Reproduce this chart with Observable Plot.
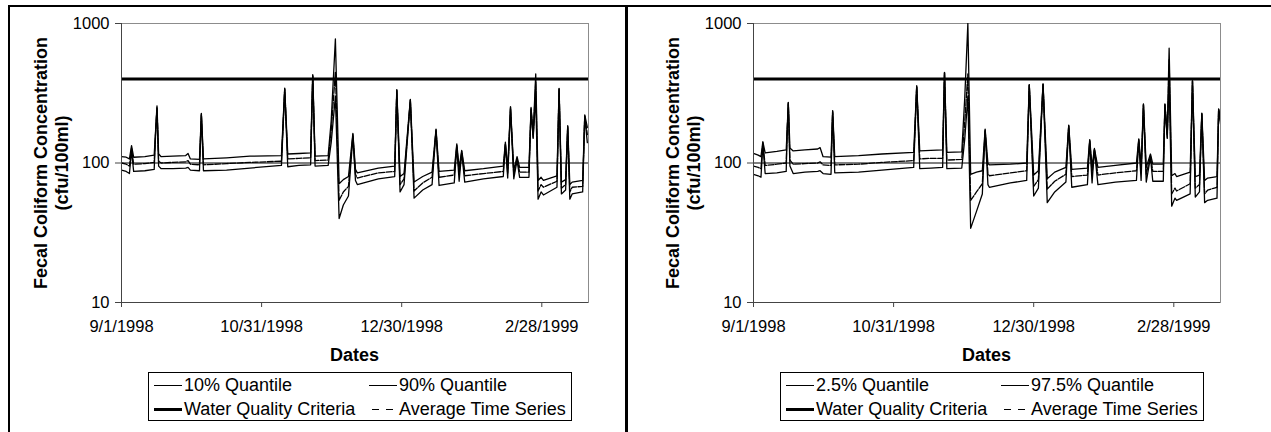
<!DOCTYPE html>
<html>
<head>
<meta charset="utf-8">
<script src="https://cdn.jsdelivr.net/npm/d3@7"></script>
<script src="https://cdn.jsdelivr.net/npm/@observablehq/plot@0.6"></script>
<style>
  body { margin: 0; background: #fff; font-family: "Liberation Sans", Arial, sans-serif; color: #000; }
  #page { position: relative; width: 1271px; height: 432px; overflow: hidden; background: #fff; }
  .bar { position: absolute; background: #000; }
  .panel { position: absolute; top: 0; width: 627px; height: 340px; }
  .panel svg { overflow: visible; }
  .ytitle { position: absolute; width: 320px; height: 42px; line-height: 21px; font-size: 18px; font-weight: bold;
            text-align: center; white-space: nowrap; transform: rotate(-90deg); transform-origin: 50% 50%; }
  .xtitle { position: absolute; width: 200px; text-align: center; font-size: 18px; font-weight: bold; line-height: 20.7px; }
  .legend { position: absolute; border: 1px solid #000; background: #fff; box-sizing: border-box; }
  .legend .item { position: absolute; height: 24px; line-height: 24px; font-size: 18px; white-space: nowrap; }
  .legend svg { position: absolute; }
</style>
</head>
<body>
<div id="page"></div>
<script>
// ---------------- data ----------------
const startLabel = "9/1/1998";
const endDayOffset = 200;               // x domain end, days after 9/1/1998
const xTickLabels = ["9/1/1998", "10/31/1998", "12/30/1998", "2/28/1999"];
const yTicks = [10, 100, 1000];
const criteriaValue = 400;
const gridValue = 100;

// Left panel (days after 9/1/1998)
const leftDays = [0, 2, 3.4, 4.3, 5.2, 10, 14, 14.6, 15.2, 15.9, 17, 22, 27.5, 28.5, 29.5, 33.4, 34.2, 35.1, 45, 55,
  68.5, 69.9, 71.2, 76, 81, 81.9, 82.9, 88.5, 89.8, 91.6, 93.2, 95, 97.2, 99.1, 100.2, 101, 110, 117, 117.9, 119.3,
  121, 123.7, 125.3, 129, 133, 134.7, 136, 142.5, 143.6, 144.6, 145.7, 147, 155, 163.5, 164.4, 165.4, 166.6, 168,
  169.4, 170.5, 174.5, 175.4, 176.3, 177.4, 178.4, 179.7, 180.7, 186.5, 187.4, 188.4, 190.2, 191.1, 192, 193, 197.5,
  198.4, 199.5];
const leftLow = [89, 87, 84, 122, 87, 88, 90, 160, 245, 95, 91, 91, 92, 93, 89, 88, 220, 88, 89, 92,
  96, 335, 94, 96, 97, 420, 95, 96, 140, 300, 40, 50, 58, 155, 75, 70, 77, 80, 330, 62,
  70, 280, 56, 64, 70, 170, 69, 72, 130, 74, 118, 73, 77, 80, 135, 78, 245, 77,
  105, 79, 79, 240, 150, 300, 55, 62, 59, 67, 335, 60, 64, 180, 55, 60, 62,
  215, 140];
const leftAvg = [100, 98, 95, 128, 98, 99, 101, 165, 252, 103, 100, 101, 102, 104, 98, 97, 224, 97, 99, 101,
  103, 340, 107, 108, 109, 425, 104, 105, 170, 450, 54, 62, 68, 160, 83, 78, 85, 87, 333, 70,
  77, 283, 63, 72, 79, 173, 79, 82, 134, 84, 121, 81, 84, 87, 138, 84, 250, 82,
  108, 86, 86, 245, 153, 380, 63, 70, 67, 74, 340, 66, 70, 183, 62, 67, 68,
  218, 160];
const leftHigh = [111, 110, 107, 133, 110, 111, 114, 170, 257, 116, 111, 112, 113, 117, 107, 106, 227, 107, 109, 112,
  113, 344, 116, 117, 118, 430, 112, 113, 200, 775, 71, 76, 80, 163, 90, 85, 92, 95, 336, 80,
  84, 286, 73, 80, 86, 175, 87, 89, 137, 92, 123, 88, 91, 95, 141, 91, 254, 89,
  111, 93, 93, 250, 160, 435, 75, 79, 75, 81, 343, 73, 76, 185, 70, 73, 75,
  221, 180];

// Right panel (days after 9/1/1998)
const rightDays = [0, 2, 3.2, 4, 5, 10, 14, 14.4, 14.9, 15.6, 17, 22, 27.5, 28.5, 29.8, 33.2, 33.9, 34.8, 45, 55,
  68.6, 69.9, 71.2, 76, 81, 81.8, 82.8, 89.2, 90.5, 91.8, 93, 95.5, 98, 99.2, 100.4, 101, 110, 117, 118.1, 120,
  122, 124, 125.8, 129, 133.8, 135, 136.3, 143, 144, 145, 146, 147.5, 155, 164, 165, 166, 167, 168.2,
  170, 171, 175.5, 176.2, 177.2, 178, 179.1, 180.5, 181.2, 187, 188, 189.2, 191, 192, 193.2, 194.5, 198.5,
  199.2, 200];
const rightLow = [83, 81, 79, 135, 84, 85, 87, 160, 265, 95, 84, 86, 87, 88, 84, 83, 230, 85, 86, 89,
  93, 350, 91, 92, 93, 440, 91, 92, 150, 300, 34, 45, 60, 170, 70, 67, 72, 75, 360, 58,
  66, 365, 52, 62, 73, 183, 67, 70, 143, 72, 124, 70, 73, 75, 145, 75, 260, 73,
  110, 74, 74, 260, 150, 400, 49, 56, 54, 60, 385, 57, 62, 225, 52, 54, 56,
  240, 190];
const rightAvg = [95, 93, 91, 140, 96, 98, 100, 165, 270, 105, 98, 99, 100, 102, 97, 96, 235, 97, 98, 101,
  104, 355, 107, 108, 108, 445, 105, 106, 200, 435, 54, 62, 71, 173, 84, 81, 85, 88, 363, 68,
  76, 367, 65, 74, 83, 185, 80, 82, 145, 84, 126, 82, 85, 88, 147, 85, 263, 83,
  113, 87, 87, 263, 153, 550, 60, 66, 63, 71, 388, 66, 70, 227, 60, 64, 67,
  242, 200];
const rightHigh = [117, 114, 111, 142, 118, 121, 124, 170, 272, 128, 122, 124, 126, 129, 111, 110, 237, 111, 113, 116,
  119, 358, 122, 123, 124, 447, 119, 120, 300, 1000, 83, 86, 88, 175, 99, 97, 98, 100, 365, 82,
  88, 369, 77, 86, 93, 187, 90, 92, 147, 94, 127, 93, 96, 100, 149, 95, 265, 93,
  116, 98, 98, 265, 160, 665, 81, 84, 80, 86, 390, 80, 82, 228, 75, 78, 80,
  244, 210];

const leftLegend = ["10% Quantile", "90% Quantile", "Water Quality Criteria", "Average Time Series"];
const rightLegend = ["2.5% Quantile", "97.5% Quantile", "Water Quality Criteria", "Average Time Series"];
const xTitle = "Dates";
const yTitle = ["Fecal Coliform Concentration", "(cfu/100ml)"];

// ---------------- build ----------------
const parse = d3.utcParse("%m/%d/%Y");
const fmt = d3.utcFormat("%-m/%-d/%Y");
const start = parse(startLabel);
const toDate = d => new Date(+start + d * 864e5);
const xTicks = xTickLabels.map(parse);
const page = document.getElementById("page");

function addBar(l, t, w, h) {
  const b = document.createElement("div");
  b.className = "bar";
  Object.assign(b.style, {left: l + "px", top: t + "px", width: w + "px", height: h + "px"});
  page.appendChild(b);
}

function makePanel(offsetX, days, low, avg, high, legendLabels) {
  const rows = days.map((d, i) => ({date: toDate(d), low: low[i], avg: avg[i], high: high[i]}));
  const chart = Plot.plot({
    width: 627, height: 340,
    marginLeft: 121, marginRight: 39, marginTop: 23, marginBottom: 38,
    x: {type: "utc", domain: [start, toDate(endDayOffset)]},
    y: {type: "log", domain: [10, 1000]},
    style: {fontFamily: "'Liberation Sans', Arial, sans-serif", fontSize: "16.5px", color: "#000", background: "transparent"},
    marks: [
      Plot.frame({stroke: "#8c8c8c", strokeWidth: 1}),
      Plot.ruleY([gridValue], {stroke: "#000", strokeWidth: 1}),
      Plot.line(rows, {x: "date", y: "low", stroke: "#000", strokeWidth: 1.3, clip: true}),
      Plot.line(rows, {x: "date", y: "high", stroke: "#000", strokeWidth: 1.3, clip: true}),
      Plot.line(rows, {x: "date", y: "avg", stroke: "#000", strokeWidth: 1.3, strokeDasharray: "6,1.5", clip: true}),
      Plot.ruleY([criteriaValue], {stroke: "#000", strokeWidth: 3}),
      Plot.ruleX([start], {stroke: "#444", strokeWidth: 1}),
      Plot.ruleY([10], {stroke: "#444", strokeWidth: 1}),
      Plot.axisY({ticks: yTicks, tickFormat: d => String(d), tickSize: 6, tickPadding: 6, label: null, stroke: "#444"}),
      Plot.axisX({ticks: xTicks, tickFormat: fmt, tickSize: 5, tickPadding: 13, label: null, stroke: "#444"})
    ]
  });
  const holder = document.createElement("div");
  holder.className = "panel";
  holder.style.left = offsetX + "px";
  holder.appendChild(chart);
  page.appendChild(holder);

  // y title (two lines, rotated)
  const yt = document.createElement("div");
  yt.className = "ytitle";
  yt.style.left = (offsetX + 52 - 160) + "px";
  yt.style.top = (162.5 - 21) + "px";
  yt.innerHTML = yTitle.map(s => `<div>${s}</div>`).join("");
  page.appendChild(yt);

  // x title
  const xt = document.createElement("div");
  xt.className = "xtitle";
  xt.style.left = (offsetX + 354.5 - 100) + "px";
  xt.style.top = "344.5px";
  xt.textContent = xTitle;
  page.appendChild(xt);

  // legend
  const lg = document.createElement("div");
  lg.className = "legend";
  Object.assign(lg.style, {left: (offsetX + 148) + "px", top: "372px", width: "424px", height: "49px"});
  const samples = [
    {w: 1, dash: null},
    {w: 1, dash: null},
    {w: 3, dash: null},
    {w: 1, dash: "7,7"}
  ];
  const pos = [[5, 12], [220, 12], [5, 36], [220, 36]];
  legendLabels.forEach((lab, i) => {
    const [x0, cy] = pos[i];
    const s = samples[i];
    const svg = document.createElementNS("http://www.w3.org/2000/svg", "svg");
    svg.setAttribute("width", 28); svg.setAttribute("height", 8);
    svg.style.left = x0 + "px"; svg.style.top = (cy - 4) + "px";
    const ln = document.createElementNS("http://www.w3.org/2000/svg", "line");
    const yy = s.w % 2 ? 4.5 : 4;
    ln.setAttribute("x1", 0); ln.setAttribute("x2", 28); ln.setAttribute("y1", yy); ln.setAttribute("y2", yy);
    ln.setAttribute("stroke", "#000"); ln.setAttribute("stroke-width", s.w);
    if (s.dash) { ln.setAttribute("stroke-dasharray", s.dash); ln.setAttribute("stroke-dashoffset", "-3"); }
    svg.appendChild(ln);
    lg.appendChild(svg);
    const t = document.createElement("div");
    t.className = "item";
    t.style.left = (x0 + 30) + "px";
    t.style.top = (cy - 12) + "px";
    t.textContent = lab;
    lg.appendChild(t);
  });
  page.appendChild(lg);
}

makePanel(0, leftDays, leftLow, leftAvg, leftHigh, leftLegend);
makePanel(632, rightDays, rightLow, rightAvg, rightHigh, rightLegend);

// outer frame lines
addBar(8.3, 4.5, 1263, 2.2);
addBar(8.3, 4.5, 1.8, 428);
addBar(625.3, 4.5, 2.4, 428);
</script>
</body>
</html>
